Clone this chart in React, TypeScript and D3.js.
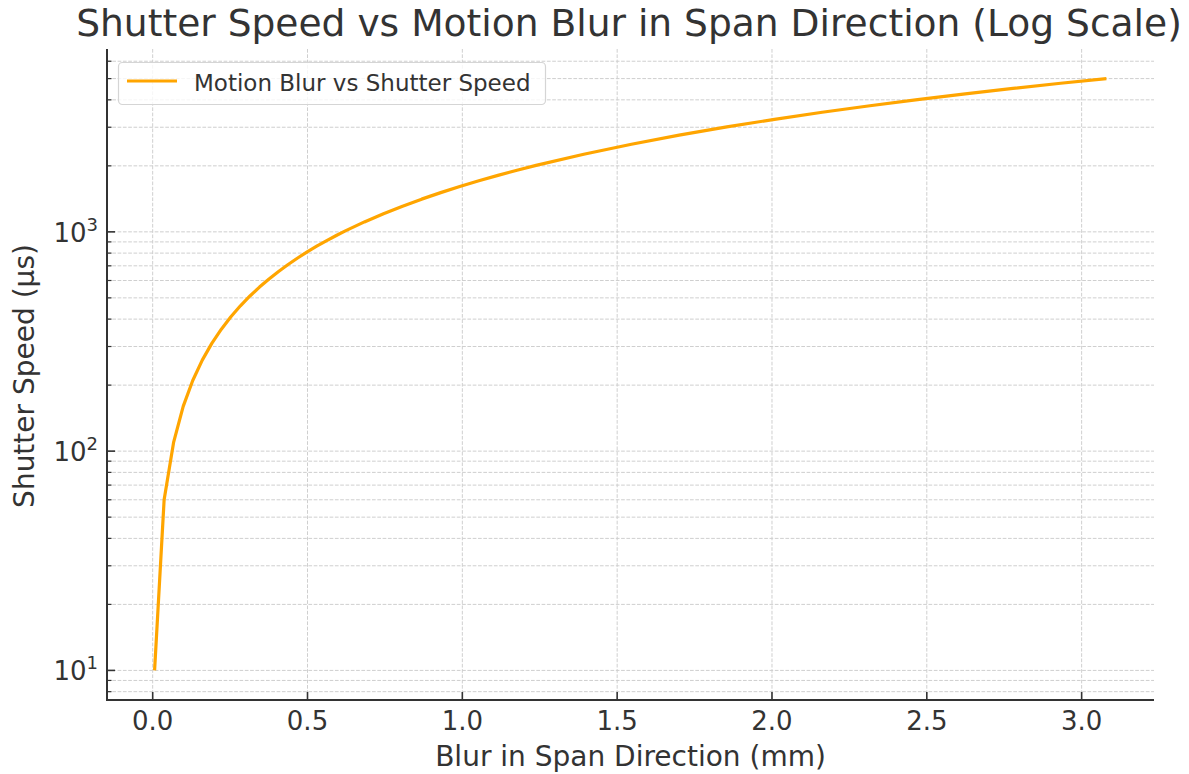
import React from "react";
import * as d3 from "d3";

// Shutter speed (µs) and the resulting blur in span direction (mm)
const shutterSpeedsUs = [
  10, 60, 110, 160, 210, 260, 310, 360, 410, 460, 510, 560, 610, 660, 710, 760,
  810, 860, 910, 960, 1010, 1110, 1210, 1310, 1410, 1510, 1610, 1710, 1810, 1910,
  2010, 2260, 2510, 2760, 3010, 3260, 3510, 3760, 4010, 4260, 4510, 4760, 5000,
];
const blurMm = [
  0.00616, 0.03696, 0.06776, 0.09856, 0.12936, 0.16016, 0.19096, 0.22176, 0.25256,
  0.28336, 0.31416, 0.34496, 0.37576, 0.40656, 0.43736, 0.46816, 0.49896, 0.52976,
  0.56056, 0.59136, 0.62216, 0.68376, 0.74536, 0.80696, 0.86856, 0.93016, 0.99176,
  1.05336, 1.11496, 1.17656, 1.23816, 1.39216, 1.54616, 1.70016, 1.85416, 2.00816,
  2.16216, 2.31616, 2.47016, 2.62416, 2.77816, 2.93216, 3.08,
];

const xTicks = [0.0, 0.5, 1.0, 1.5, 2.0, 2.5, 3.0];
const yMajorTicks = [10, 100, 1000];
const yMajorExponents = ["1", "2", "3"];
const yMinorTicks = [
  8, 9, 20, 30, 40, 50, 60, 70, 80, 90, 200, 300, 400, 500, 600, 700, 800, 900,
  2000, 3000, 4000, 5000, 6000,
];

const titleText = "Shutter Speed vs Motion Blur in Span Direction (Log Scale)";
const xLabelText = "Blur in Span Direction (mm)";
const yLabelText = "Shutter Speed (µs)";
const legendLabel = "Motion Blur vs Shutter Speed";

const W = 1189;
const H = 774;
const FONT = "DejaVu Sans";
const TEXT = "#333333";
const LINE = "#FFA500";
const GRID = "#cfcfcf";

export default function App() {
  const left = 107;
  const right = 1154;
  const top = 49;
  const bottom = 700;

  const [xmin, xmax] = d3.extent(blurMm) as [number, number];
  const xm = (xmax - xmin) * 0.05;
  const x = d3.scaleLinear().domain([xmin - xm, xmax + xm]).range([left, right]);

  const [ymin, ymax] = d3.extent(shutterSpeedsUs) as [number, number];
  const lmin = Math.log10(ymin);
  const lmax = Math.log10(ymax);
  const lm = (lmax - lmin) * 0.05;
  const y = d3
    .scaleLog()
    .domain([Math.pow(10, lmin - lm), Math.pow(10, lmax + lm)])
    .range([bottom, top]);

  const line = d3
    .line<number>()
    .x((_, i) => x(blurMm[i]))
    .y((d) => y(d));

  const pathD = line(shutterSpeedsUs) || "";

  return (
    <svg
      width={W}
      height={H}
      style={{ position: "absolute", left: 0, top: 0, display: "block", background: "#fff" }}
      fontFamily={FONT}
    >
      <rect x={0} y={0} width={W} height={H} fill="#fff" />
      {/* grid */}
      <g stroke={GRID} strokeWidth={1} strokeDasharray="3.7,1.6" fill="none">
        {yMinorTicks.map((t) => (
          <line key={"gm" + t} x1={left} x2={right} y1={y(t)} y2={y(t)} />
        ))}
        {yMajorTicks.map((t) => (
          <line key={"gM" + t} x1={left} x2={right} y1={y(t)} y2={y(t)} />
        ))}
        {xTicks.map((t) => (
          <line key={"gx" + t} x1={x(t)} x2={x(t)} y1={top} y2={bottom} />
        ))}
      </g>

      {/* data line */}
      <path d={pathD} fill="none" stroke={LINE} strokeWidth={3.2} strokeLinejoin="round" strokeLinecap="butt" />

      {/* spines */}
      <line x1={left} x2={left} y1={top} y2={bottom + 1} stroke={TEXT} strokeWidth={2} />
      <line x1={left - 1} x2={right} y1={bottom} y2={bottom} stroke={TEXT} strokeWidth={2} />

      {/* x ticks */}
      {xTicks.map((t) => (
        <g key={"xt" + t}>
          <line x1={x(t)} x2={x(t)} y1={bottom} y2={bottom - 8} stroke={TEXT} strokeWidth={1.6} />
          <text x={x(t)} y={730} textAnchor="middle" fontSize={26} fill={TEXT}>
            {t.toFixed(1)}
          </text>
        </g>
      ))}

      {/* y ticks */}
      {yMinorTicks.map((t) => (
        <line key={"ym" + t} x1={left} x2={left + 4.5} y1={y(t)} y2={y(t)} stroke={TEXT} strokeWidth={1.2} />
      ))}
      {yMajorTicks.map((t, i) => (
        <g key={"yt" + t}>
          <line x1={left} x2={left + 8} y1={y(t)} y2={y(t)} stroke={TEXT} strokeWidth={1.6} />
          <text x={98} y={y(t) + 10} textAnchor="end" fontSize={26} fill={TEXT}>
            10
            <tspan fontSize={18} dy={-11}>
              {yMajorExponents[i]}
            </tspan>
          </text>
        </g>
      ))}

      {/* title */}
      <text x={629} y={36} textAnchor="middle" fontSize={37.6} fill={TEXT}>
        {titleText}
      </text>

      {/* axis labels */}
      <text x={(left + right) / 2} y={766} textAnchor="middle" fontSize={28} fill={TEXT}>
        {xLabelText}
      </text>
      <text
        transform={`translate(33.5, 376) rotate(-90)`}
        textAnchor="middle"
        fontSize={28}
        fill={TEXT}
      >
        {yLabelText}
      </text>

      {/* legend */}
      <g>
        <rect x={118.5} y={62.5} width={427} height={42} rx={4} fill="#fff" fillOpacity={0.8} stroke="#d5d5d5" strokeWidth={1.2} />
        <line x1={127} x2={177} y1={81} y2={81} stroke={LINE} strokeWidth={3.2} />
        <text x={194} y={90.5} fontSize={23} fill={TEXT}>
          {legendLabel}
        </text>
      </g>
    </svg>
  );
}
